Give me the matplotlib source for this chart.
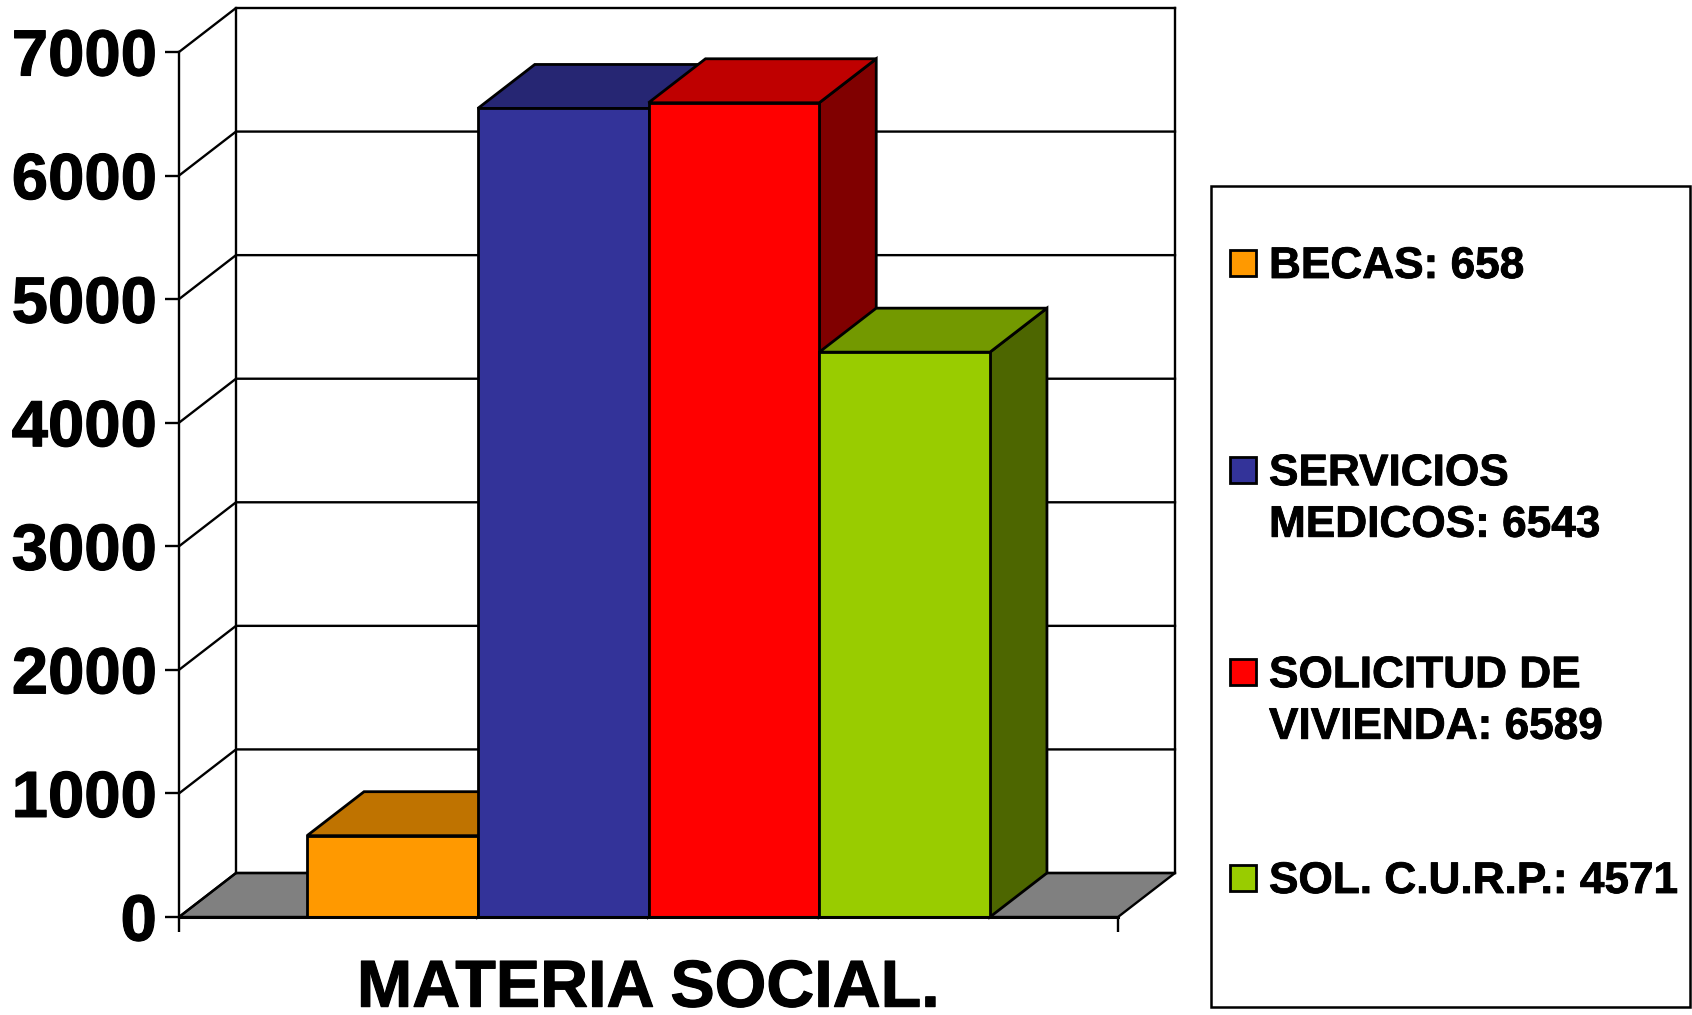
import numpy as np
import matplotlib
matplotlib.use('Agg')
import matplotlib.pyplot as plt
import matplotlib.patheffects as pe
from matplotlib.patches import Polygon, Rectangle

plt.rcParams['font.family'] = ['Liberation Sans', 'DejaVu Sans']
plt.rcParams['font.weight'] = 'bold'

# datos
categorias = ['BECAS', 'SERVICIOS\nMEDICOS', 'SOLICITUD DE\nVIVIENDA', 'SOL. C.U.R.P.']
valores = [658, 6543, 6589, 4571]
color_frente = ['#FF9900', '#333399', '#FF0000', '#99CC00']
color_tapa = ['#BF7300', '#262673', '#BF0000', '#739900']
color_lado = ['#804D00', '#1A1A4D', '#800000', '#4D6600']
y_ticks = [0, 1000, 2000, 3000, 4000, 5000, 6000, 7000]
titulo_x = 'MATERIA SOCIAL.'

W, H = 1692, 1015
fig = plt.figure(figsize=(W / 100, H / 100), dpi=100, facecolor='white')

# el texto del original sale un poco mas grueso
grueso = [pe.withStroke(linewidth=0.8, foreground='black')]

# ejes = plano frontal del grafico 3D
ax = fig.add_axes([179 / W, 1 - 917 / H, (1118 - 179) / W, (917 - 52) / H])
ax.set_xlim(-1.25, 4.25)
ax.set_ylim(0, 7000)
for s in ax.spines.values():
    s.set_visible(False)
ax.patch.set_visible(False)

# profundidad en unidades de datos
dx = 57 / (939 / 5.5)
dy = 44 / (865 / 7000)
x0, x1 = ax.get_xlim()
LW = 1.7
LW_BARRA = 2.0

# piso gris
ax.add_patch(Polygon([(x0, 0), (x0 + dx, dy), (x1 + dx, dy), (x1, 0)],
                     closed=True, fc='#808080', ec='black', lw=LW, clip_on=False, zorder=1))

# paredes y lineas de la reja
for v in y_ticks:
    ax.plot([x0, x0 + dx, x1 + dx], [v, v + dy, v + dy], color='black', lw=LW,
            clip_on=False, zorder=1.5, solid_joinstyle='miter')
ax.plot([x0 + dx, x0 + dx], [dy, 7000 + dy], color='black', lw=LW, clip_on=False, zorder=1.5)
ax.plot([x1 + dx, x1 + dx], [dy, 7000 + dy], color='black', lw=LW, clip_on=False, zorder=1.5)
ax.plot([x0, x0], [0, 7000], color='black', lw=LW, clip_on=False, zorder=1.5)

# barras con cara lateral y tapa
z = 2
for i, v in enumerate(valores):
    izq, der = i - 0.5, i + 0.5
    ax.add_patch(Polygon([(der, 0), (der + dx, dy), (der + dx, v + dy), (der, v)], closed=True,
                         fc=color_lado[i], ec='black', lw=LW_BARRA, clip_on=False, zorder=z))
    ax.add_patch(Polygon([(izq, v), (izq + dx, v + dy), (der + dx, v + dy), (der, v)], closed=True,
                         fc=color_tapa[i], ec='black', lw=LW_BARRA, clip_on=False, zorder=z + 0.1))
    ax.bar(i, v, width=1.0, color=color_frente[i], edgecolor='black', linewidth=LW_BARRA,
           clip_on=False, zorder=z + 0.2)
    z += 1

ax.plot([x0, x1], [0, 0], color='black', lw=2.2, clip_on=False, zorder=20)

# ticks
ax.set_yticks(y_ticks)
ax.set_xticks([x0, x1])
ax.set_xticklabels(['', ''])
ax.tick_params(axis='y', length=10, width=LW, pad=6, labelsize=47)
ax.tick_params(axis='x', length=11, width=LW)
for t in ax.get_yticklabels():
    t.set_path_effects(grueso)
ax.set_xlabel(titulo_x, fontsize=47.8, fontweight='bold', labelpad=15.5, path_effects=grueso)

# leyenda dibujada a mano, en pixeles de la figura
lg = fig.add_axes([0, 0, 1, 1])
lg.set_xlim(0, W)
lg.set_ylim(H, 0)
lg.axis('off')
lg.patch.set_visible(False)
lg.add_patch(Rectangle((1211, 186), 479, 821, fc='white', ec='black', lw=1.8))
centros = [263, 496, 698, 878]
for nombre, valor, c, yc, in zip(categorias, valores, color_frente, centros):
    lineas = f'{nombre}: {valor}'
    y_marca = yc if '\n' not in nombre else yc - 26
    lg.add_patch(Rectangle((1230, y_marca - 13), 26, 26, fc=c, ec='black', lw=2))
    lg.text(1269, yc + 3.5, lineas, fontsize=31.8, fontweight='bold', va='center', ha='left',
            linespacing=1.33, path_effects=[pe.withStroke(linewidth=0.6, foreground='black')])

fig.savefig('out.png', dpi=100)
